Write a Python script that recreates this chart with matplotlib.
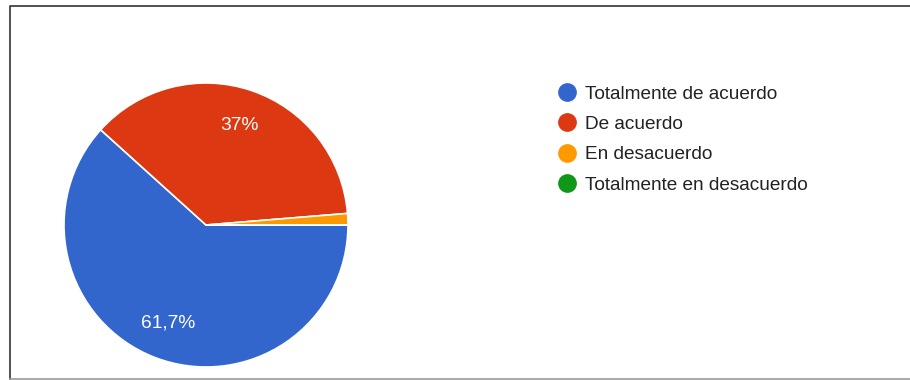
import matplotlib
matplotlib.use("Agg")
import matplotlib.pyplot as plt
import numpy as np

categories = ["Totalmente de acuerdo", "De acuerdo", "En desacuerdo", "Totalmente en desacuerdo"]
values = [61.7, 37.0, 1.3, 0.0]
pct_labels = ["61,7%", "37%", "", ""]
colors = ["#3366CC", "#DC3912", "#FF9900", "#109618"]

plt.rcParams["font.family"] = ["Liberation Sans", "DejaVu Sans"]

W, H = 910, 380
fig = plt.figure(figsize=(W / 100, H / 100), dpi=100)
ax = fig.add_axes([0, 0, 1, 1])

# Pie: first slice starts at 3 o'clock and runs clockwise
cx, cy, r = 206, H - 225, 142
ax.pie(
    values,
    colors=colors,
    startangle=0,
    counterclock=False,
    center=(cx, cy),
    radius=r,
    wedgeprops=dict(edgecolor="white", linewidth=1.2),
    frame=True,
)
ax.set_xlim(0, W)
ax.set_ylim(0, H)
ax.set_aspect("equal")
ax.axis("off")

# Percentage labels inside the large slices
total = sum(values)
ang = 0.0
for v, lab in zip(values, pct_labels):
    span = v / total * 360
    mid = np.deg2rad(-(ang + span / 2))
    ang += span
    if lab:
        d = 0.74 * r
        ax.text(cx + d * np.cos(mid), cy + d * np.sin(mid), lab,
                color="white", fontsize=13.8, ha="center", va="center")

# Legend
for i, (cat, col) in enumerate(zip(categories, colors)):
    y = H - (92 + i * 30.3)
    ax.plot([567], [y], marker="o", markersize=13.5, color=col, markeredgewidth=0,
            linestyle="none")
    ax.text(585, y - 6.8, cat, color="#222222", fontsize=13.7, ha="left", va="baseline")

# Frame around the chart
ax.plot([10, 10, W + 5], [H - 379, H - 6, H - 6], color="#333333", linewidth=1.2,
        clip_on=False)
ax.plot([10, W + 5], [H - 379, H - 379], color="#999999", linewidth=1.2, clip_on=False)

fig.savefig("out.png", dpi=100)
